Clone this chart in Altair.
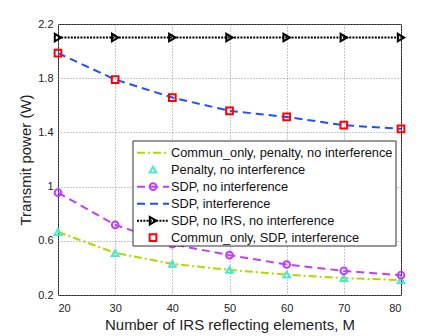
import altair as alt
import pandas as pd

M = [20, 30, 40, 50, 60, 70, 80]
commun_penalty = [0.665, 0.51, 0.43, 0.385, 0.35, 0.325, 0.31]
penalty_noint = [0.665, 0.51, 0.43, 0.385, 0.35, 0.325, 0.31]
sdp_noint = [0.955, 0.718, 0.575, 0.494, 0.425, 0.378, 0.346]
sdp_int = [1.985, 1.79, 1.657, 1.559, 1.514, 1.453, 1.426]
sdp_noirs = [2.1, 2.1, 2.1, 2.1, 2.1, 2.1, 2.1]
commun_sdp_int = [1.985, 1.79, 1.657, 1.559, 1.514, 1.453, 1.426]

labels = [
    "Commun_only, penalty, no interference",
    "Penalty, no interference",
    "SDP, no interference",
    "SDP, interference",
    "SDP, no IRS, no interference",
    "Commun_only, SDP, interference",
]
values = [commun_penalty, penalty_noint, sdp_noint, sdp_int, sdp_noirs, commun_sdp_int]

# style per series: (color, dash or None, shape or None)
styles = [
    ("#b5d600", [8, 3, 2, 3], None),
    ("#4be8cc", None, "triangle-up"),
    ("#bf3fff", [8, 5], "circle"),
    ("#1f4fff", [8, 5], None),
    ("#000000", [2, 1.2], "triangle-right"),
    ("#ff0000", None, "square"),
]

W, H = 343, 271
xs = alt.Scale(domain=[20, 80])
ys = alt.Scale(domain=[0.2, 2.2])

xax = alt.Axis(values=M, title="Number of IRS reflecting elements, M", grid=True,
               gridDash=[1, 2], gridColor="#888888", gridOpacity=0.9,
               labelFontSize=11, titleFontSize=15, labelColor="#222", titleColor="#222",
               labelFont="Liberation Sans", titleFont="Liberation Sans", titleFontWeight="normal",
               domain=False, tickSize=0, labelPadding=7, titlePadding=4)
yax = alt.Axis(values=[0.2, 0.6, 1.0, 1.4, 1.8, 2.2], format="~g", title="Transmit power (W)",
               grid=True, gridDash=[1, 2], gridColor="#888888", gridOpacity=0.9,
               labelFontSize=11, titleFontSize=15, labelColor="#222", titleColor="#222",
               labelFont="Liberation Sans", titleFont="Liberation Sans", titleFontWeight="normal",
               domain=False, tickSize=0, labelPadding=5, titlePadding=4)

layers = []
for i, (lab, vals) in enumerate(zip(labels, values)):
    df = pd.DataFrame({"M": M, "P": vals, "series": lab})
    color, dash, shape = styles[i]
    if dash is not None:
        kw = dict(color=color, strokeWidth=2, strokeDash=dash)
        enc = dict(x=alt.X("M:Q", scale=xs, axis=xax), y=alt.Y("P:Q", scale=ys, axis=yax)) if not layers else \
              dict(x=alt.X("M:Q", scale=xs), y=alt.Y("P:Q", scale=ys))
        layers.append(alt.Chart(df).mark_line(**kw).encode(**enc))
    if shape is not None:
        enc = dict(x=alt.X("M:Q", scale=xs, axis=xax), y=alt.Y("P:Q", scale=ys, axis=yax)) if not layers else \
              dict(x=alt.X("M:Q", scale=xs), y=alt.Y("P:Q", scale=ys))
        sz = 45 if shape != "triangle-right" else 55
        layers.append(alt.Chart(df).mark_point(shape=shape, filled=False, color=color,
                                               strokeWidth=2, size=sz, opacity=1).encode(**enc))

# legend box
lx0, lx1, ly0, ly1 = 133 - 58, 396 - 58, 141 - 24, 246 - 24
anchor = pd.DataFrame({"a": [0]})
layers.append(alt.Chart(anchor).mark_rect(fill="white", stroke="#333", strokeWidth=1).encode(
    x=alt.value(lx0), x2=alt.value(lx1), y=alt.value(ly0), y2=alt.value(ly1)))
row0, step = 152.7 - 24, 17.0
for i, lab in enumerate(labels):
    color, dash, shape = styles[i]
    yy = row0 + i * step
    if dash is not None:
        layers.append(alt.Chart(anchor).mark_rule(color=color, strokeWidth=2, strokeDash=dash).encode(
            x=alt.value(137 - 58), x2=alt.value(169 - 58), y=alt.value(yy)))
    if shape is not None:
        sz = 45 if shape != "triangle-right" else 55
        layers.append(alt.Chart(anchor).mark_point(shape=shape, filled=False, color=color,
                                                   strokeWidth=2, size=sz, opacity=1).encode(
            x=alt.value(153 - 58), y=alt.value(yy)))
    layers.append(alt.Chart(pd.DataFrame({"t": [lab]})).mark_text(
        align="left", baseline="middle", fontSize=12.8, font="Liberation Sans", color="#111").encode(
        x=alt.value(171 - 58), y=alt.value(yy), text="t:N"))

chart = alt.layer(*layers).properties(
    width=W, height=H,
    padding={"left": 50, "top": 16, "right": 34, "bottom": 40},
    autosize=alt.AutoSizeParams(type="none"),
).configure_view(stroke="#222", strokeWidth=1)

chart.save("out.html", embed_options={"renderer": "svg", "actions": False})
